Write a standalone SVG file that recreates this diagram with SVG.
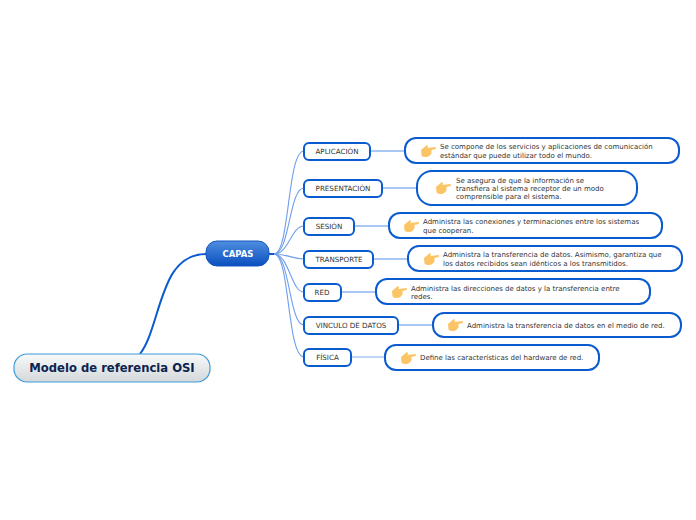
<svg xmlns="http://www.w3.org/2000/svg" width="696" height="520" viewBox="0 0 696 520">
<style>
text{font-family:"DejaVu Sans",Verdana,sans-serif;font-size:7px;fill:#333}
.sub{fill:#fff;stroke:#0a5bd0;stroke-width:2}
.det{fill:#fff;stroke:#0a5bd0;stroke-width:2}
.lbl{font-size:7.150px;fill:#333;text-anchor:middle}
.l{fill:none;stroke:#6f9fec;stroke-width:1.1}
.d{fill:none;stroke:#a9c8f5;stroke-width:2}
</style>
<defs>
<linearGradient id="gr" x1="0" y1="0" x2="0" y2="1"><stop offset="0" stop-color="#f8fafa"/><stop offset="1" stop-color="#d3d8da"/></linearGradient>
<linearGradient id="gc" x1="0" y1="0" x2="0" y2="1"><stop offset="0" stop-color="#4f8ee0"/><stop offset="1" stop-color="#0a4fbf"/></linearGradient>
<path id="hand" fill="#fbc566" d="M0 5 L3.500 2 L6 0 L7 1 L6.500 3 L14.500 2 Q15.500 3 14.500 4 L10.500 5 L10.500 8.500 Q9 11 6 12 Q2 12.500 .5 10.500 Z"/>
</defs>
<g id="connectors">
<path fill="none" stroke="#0a5bd0" stroke-width="2" d="M140 354 C147 345 151 332 156 316 C166 283 175 254 206 254"/>
<path fill="none" stroke="#0a5bd0" stroke-width="2" d="M269 254 H276"/>
<path class="l" d="M274 254 C290 254 287 151 304 151"/>
<path class="l" d="M274 254 C290 254 289 188 304 188"/>
<path class="l" d="M274 254 C289 254 291 226 304 226"/>
<path class="l" d="M274 254 C288 254 292 259 304 259"/>
<path class="l" d="M274 254 C289 254 291 292 304 292"/>
<path class="l" d="M274 254 C290 254 289 325 304 325"/>
<path class="l" d="M274 254 C290 254 287 357 304 357"/>
<path class="d" d="M370 151 H405"/>
<path class="d" d="M382 188 H417"/>
<path class="d" d="M354 226 H389"/>
<path class="d" d="M373 259 H408"/>
<path class="d" d="M341 292 H376"/>
<path class="d" d="M398 325 H433"/>
<path fill="none" stroke="#7fabee" stroke-width="1" d="M351 357 H385"/>
</g>
<g id="root"><rect x="14" y="354" width="196" height="28" rx="13" fill="url(#gr)" stroke="#3f9bd8" stroke-width="1.2"/><text x="112" y="372" text-anchor="middle" style="font-size:11.600px;font-weight:bold;fill:#0c2350">Modelo de referencia OSI</text></g>
<g id="capas"><rect x="206" y="241" width="63" height="25" rx="11" fill="url(#gc)" stroke="#1257c0"/><text x="238" y="257" text-anchor="middle" style="font-size:8.500px;font-weight:bold;fill:#fff">CAPAS</text></g>

<g id="n1"><rect class="sub" x="304" y="143" width="66" height="17" rx="5"/><text class="lbl" x="337" y="154">APLICACIÓN</text></g>
<g id="n2"><rect class="sub" x="304" y="180" width="78" height="17" rx="5"/><text class="lbl" x="343" y="191">PRESENTACIÓN</text></g>
<g id="n3"><rect class="sub" x="304" y="218" width="50" height="17" rx="5"/><text class="lbl" x="329" y="229">SESIÓN</text></g>
<g id="n4"><rect class="sub" x="304" y="251" width="69" height="17" rx="5"/><text class="lbl" x="339" y="262">TRANSPORTE</text></g>
<g id="n5"><rect class="sub" x="304" y="284" width="37" height="17" rx="5"/><text class="lbl" x="322" y="295">RED</text></g>
<g id="n6"><rect class="sub" x="304" y="317" width="94" height="17" rx="5"/><text class="lbl" x="351" y="328">VINCULO DE DATOS</text></g>
<g id="n7"><rect class="sub" x="304" y="349" width="47" height="17" rx="5"/><text class="lbl" x="327.500" y="360">FÍSICA</text></g>

<g id="d1"><rect class="det" x="405" y="138" width="274" height="25" rx="11"/><use href="#hand" x="421" y="145"/><text x="440" y="149">Se compone de los servicios y aplicaciones de comunicación</text><text x="440" y="158">estándar que puede utilizar todo el mundo.</text></g>
<g id="d2"><rect class="det" x="417" y="171" width="220" height="34" rx="15"/><use href="#hand" x="436" y="182"/><text x="456" y="183">Se asegura de que la información se</text><text x="456" y="191">transfiera al sistema receptor de un modo</text><text x="456" y="199">comprensible para el sistema.</text></g>
<g id="d3"><rect class="det" x="389" y="213" width="273" height="25" rx="11"/><use href="#hand" x="404" y="220"/><text x="423" y="224">Administra las conexiones y terminaciones entre los sistemas</text><text x="423" y="233">que cooperan.</text></g>
<g id="d4"><rect class="det" x="408" y="246" width="274" height="25" rx="11"/><use href="#hand" x="424" y="253"/><text x="443" y="257">Administra la transferencia de datos. Asimismo, garantiza que</text><text x="443" y="266">los datos recibidos sean idénticos a los transmitidos.</text></g>
<g id="d5"><rect class="det" x="376" y="279" width="274" height="25" rx="11"/><use href="#hand" x="392" y="286"/><text x="411" y="291">Administra las direcciones de datos y la transferencia entre</text><text x="411" y="299">redes.</text></g>
<g id="d6"><rect class="det" x="433" y="313" width="248" height="24" rx="11"/><use href="#hand" x="448" y="319"/><text x="467" y="328">Administra la transferencia de datos en el medio de red.</text></g>
<g id="d7"><rect class="det" x="385" y="345" width="214" height="25" rx="11"/><use href="#hand" x="401" y="352"/><text x="420" y="360">Define las características del hardware de red.</text></g>
</svg>
